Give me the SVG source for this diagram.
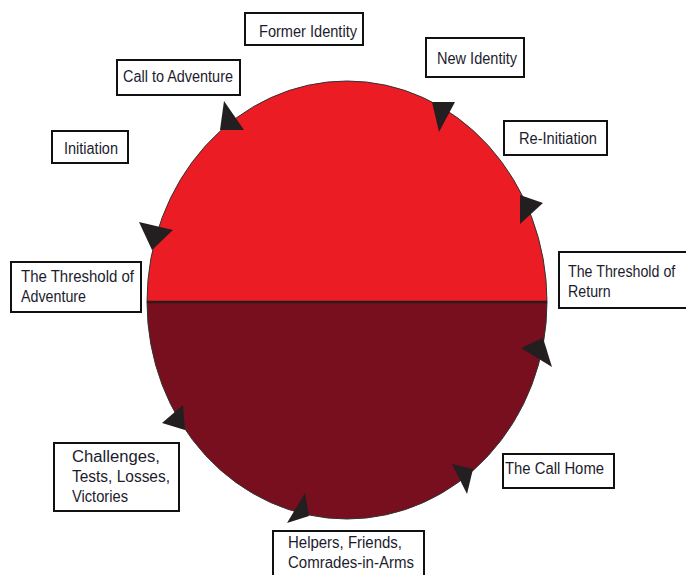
<svg xmlns="http://www.w3.org/2000/svg" width="686" height="575" viewBox="0 0 686 575">
<style>
.box{fill:#fff;stroke:#111;stroke-width:2}
.t{font-family:"Liberation Sans",Arial,sans-serif;font-size:16px;fill:#1c1c2e}
.ah{fill:#231f20}
</style>
<rect width="686" height="575" fill="#fff"/>
<g id="wheel">
<path d="M147,302 A200,221 0 0 1 547,302 Z" fill="#ec1c24" stroke="#333" stroke-width="1"/>
<path d="M147,302 A200,217 0 0 0 547,302 Z" fill="#770f1f" stroke="#333" stroke-width="1"/>
<line x1="147" y1="302" x2="547" y2="302" stroke="#2b1b1b" stroke-width="2.5"/>
</g>
<g id="connectors">
<polygon class="ah" points="224,101 220,130 244,130"/>
<polygon class="ah" points="432,102 455,102 439,132"/>
<polygon class="ah" points="520,195 543,203 520,224"/>
<polygon class="ah" points="139,222 173,230 152,250"/>
<polygon class="ah" points="521,348 543,338 552,367"/>
<polygon class="ah" points="452,464 473,469 467,494"/>
<polygon class="ah" points="305,493 309,516 287,523"/>
<polygon class="ah" points="183,405 185,430 162,423"/>
</g>
<g id="former-identity">
<rect class="box" x="245" y="13" width="118" height="32"/>
<text class="t" x="259" y="37" textLength="98" lengthAdjust="spacingAndGlyphs">Former Identity</text>
</g>
<g id="new-identity">
<rect class="box" x="426" y="38" width="98" height="39"/>
<text class="t" x="437" y="64" textLength="80" lengthAdjust="spacingAndGlyphs">New Identity</text>
</g>
<g id="call-to-adventure">
<rect class="box" x="117" y="60" width="123" height="35"/>
<text class="t" x="123" y="82" textLength="110" lengthAdjust="spacingAndGlyphs">Call to Adventure</text>
</g>
<g id="re-initiation">
<rect class="box" x="504" y="121" width="103" height="34"/>
<text class="t" x="519" y="144" textLength="78" lengthAdjust="spacingAndGlyphs">Re-Initiation</text>
</g>
<g id="initiation">
<rect class="box" x="52" y="131" width="76" height="32"/>
<text class="t" x="64" y="154" textLength="54" lengthAdjust="spacingAndGlyphs">Initiation</text>
</g>
<g id="threshold-adventure">
<rect class="box" x="11" y="262" width="130" height="50"/>
<text class="t" x="21" y="282" textLength="113" lengthAdjust="spacingAndGlyphs">The Threshold of</text>
<text class="t" x="21" y="302" textLength="65" lengthAdjust="spacingAndGlyphs">Adventure</text>
</g>
<g id="threshold-return">
<rect class="box" x="559" y="252" width="128" height="56"/>
<text class="t" transform="translate(568,277) scale(0.89,1)">The Threshold of</text>
<text class="t" transform="translate(568,297) scale(0.89,1)">Return</text>
</g>
<g id="challenges">
<rect class="box" x="54" y="443" width="125" height="68"/>
<text class="t" x="72" y="462" textLength="88" lengthAdjust="spacingAndGlyphs">Challenges,</text>
<text class="t" x="72" y="482" textLength="98" lengthAdjust="spacingAndGlyphs">Tests, Losses,</text>
<text class="t" x="72" y="502" textLength="56" lengthAdjust="spacingAndGlyphs">Victories</text>
</g>
<g id="call-home">
<rect class="box" x="503" y="454" width="111" height="34"/>
<text class="t" x="505" y="474" textLength="99" lengthAdjust="spacingAndGlyphs">The Call Home</text>
</g>
<g id="helpers">
<rect class="box" x="273" y="531" width="151" height="50"/>
<text class="t" x="288" y="548" textLength="114" lengthAdjust="spacingAndGlyphs">Helpers, Friends,</text>
<text class="t" x="288" y="568" textLength="126" lengthAdjust="spacingAndGlyphs">Comrades-in-Arms</text>
</g>
</svg>
